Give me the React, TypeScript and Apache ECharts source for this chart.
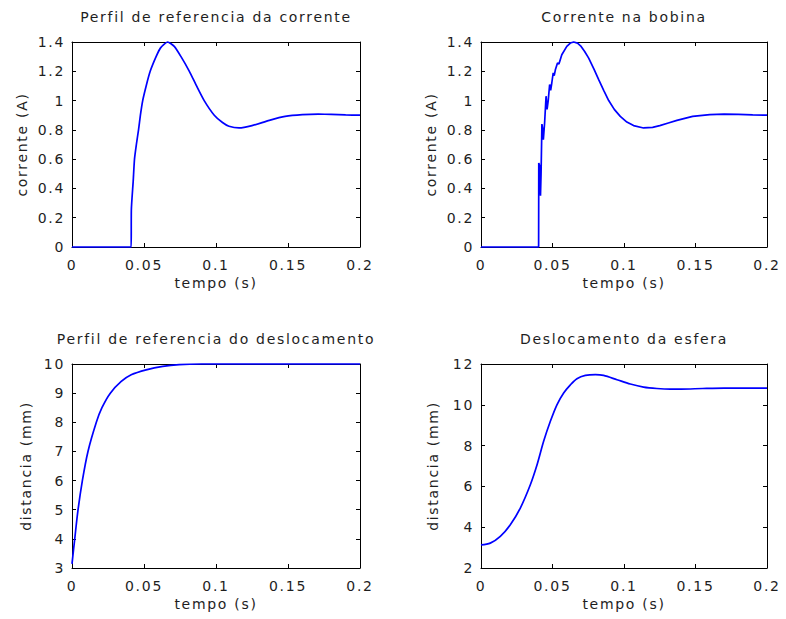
import React, { useEffect, useRef } from "react";
import * as echarts from "echarts";

// Reference current profile: time (s) and current (A)
const refCurrentT = [0, 0.0411, 0.0412, 0.0425, 0.0434, 0.0447, 0.0462, 0.0475, 0.0491, 0.0515, 0.0543, 0.0584, 0.0615, 0.0664, 0.071, 0.0757, 0.0815, 0.0865, 0.0918, 0.0988, 0.1045, 0.109, 0.116, 0.125, 0.137, 0.148, 0.16, 0.171, 0.18, 0.19, 0.2];
const refCurrentI = [0, 0, 0.25, 0.45, 0.6, 0.7, 0.8, 0.9, 1.0, 1.1, 1.2, 1.3, 1.36, 1.4, 1.37, 1.3, 1.2, 1.1, 1.0, 0.9, 0.85, 0.825, 0.813, 0.829, 0.865, 0.892, 0.904, 0.907, 0.906, 0.902, 0.9];

// Measured coil current: time (s) and current (A)
const coilT = [0, 0.0403, 0.0404, 0.0412, 0.0416, 0.042, 0.0426, 0.0432, 0.0436, 0.0445, 0.0455, 0.0462, 0.047, 0.048, 0.0487, 0.0495, 0.0505, 0.0512, 0.052, 0.0535, 0.0545, 0.0565, 0.06, 0.0625, 0.0648, 0.0675, 0.07, 0.0725, 0.0753, 0.079, 0.0823, 0.0858, 0.0893, 0.0932, 0.0974, 0.102, 0.1067, 0.1137, 0.12, 0.125, 0.131, 0.137, 0.148, 0.16, 0.17, 0.18, 0.19, 0.2];
const coilI = [0, 0, 0.574, 0.55, 0.35, 0.5, 0.84, 0.8, 0.733, 0.85, 1.03, 0.94, 1.0, 1.11, 1.07, 1.12, 1.19, 1.17, 1.21, 1.257, 1.25, 1.313, 1.37, 1.393, 1.4, 1.392, 1.37, 1.335, 1.29, 1.215, 1.143, 1.07, 1.0, 0.94, 0.892, 0.853, 0.829, 0.813, 0.817, 0.829, 0.847, 0.865, 0.892, 0.904, 0.907, 0.906, 0.902, 0.9];

// Reference displacement profile: time (s) and distance (mm)
const refDispT = [0, 0.0019, 0.0042, 0.0072, 0.0111, 0.0169, 0.0208, 0.0266, 0.0342, 0.0411, 0.0515, 0.063, 0.0745, 0.09, 0.2];
const refDispD = [3.14, 4, 5, 6, 7, 8, 8.5, 9, 9.4, 9.63, 9.8, 9.92, 9.98, 10.0, 10.0];

// Sphere displacement: time (s) and distance (mm)
const sphereT = [0, 0.0065, 0.0135, 0.0205, 0.0275, 0.0345, 0.0392, 0.0438, 0.0485, 0.0531, 0.0578, 0.0625, 0.0671, 0.073, 0.08, 0.0857, 0.0951, 0.1044, 0.1137, 0.123, 0.1324, 0.14, 0.155, 0.17, 0.2];
const sphereD = [3.13, 3.22, 3.55, 4.12, 4.94, 6.08, 7.06, 8.21, 9.19, 10.0, 10.58, 10.98, 11.28, 11.44, 11.48, 11.44, 11.23, 11.02, 10.87, 10.8, 10.77, 10.77, 10.8, 10.82, 10.82];

const titles = [
  "Perfil de referencia da corrente",
  "Corrente na bobina",
  "Perfil de referencia do deslocamento",
  "Deslocamento da esfera",
];
const xName = "tempo (s)";
const yNames = ["corrente (A)", "corrente (A)", "distancia (mm)", "distancia (mm)"];
const yRanges = [
  { min: 0, max: 1.4, interval: 0.2 },
  { min: 0, max: 1.4, interval: 0.2 },
  { min: 3, max: 10, interval: 1 },
  { min: 2, max: 12, interval: 2 },
];
const xRange = { min: 0, max: 0.2, interval: 0.05 };

const FONT = "DejaVu Sans";
const TEXT = "#1e1e1e";

const zip = (a: number[], b: number[]) => a.map((v, i) => [v, b[i]]);

export default function App() {
  const ref = useRef<HTMLDivElement>(null);

  useEffect(() => {
    if (!ref.current) return;
    const chart = echarts.init(ref.current, undefined, { renderer: "svg" });

    const grids = [
      { left: 72, top: 42, width: 288, height: 205 },
      { left: 481, top: 42, width: 286, height: 205 },
      { left: 72, top: 364, width: 288, height: 204 },
      { left: 481, top: 364, width: 286, height: 204 },
    ];
    const yNameGaps = [43, 43, 39, 41];
    // the sawtooth coil current is drawn as straight segments
    const smoothing = [0.2, 0, 0.3, 0.3];

    const tick = { show: true, inside: true, length: 4, lineStyle: { color: "#000", width: 1 } };
    const line = { show: true, onZero: false, lineStyle: { color: "#000", width: 1 } };
    const label = { fontFamily: FONT, fontSize: 14, color: TEXT };

    const xAxes: any[] = [];
    const yAxes: any[] = [];
    grids.forEach((_, i) => {
      xAxes.push({
        type: "value", gridIndex: i, position: "bottom", ...xRange,
        name: xName, nameLocation: "middle", nameGap: 29,
        nameTextStyle: { ...label },
        axisLine: line, axisTick: tick, splitLine: { show: false },
        axisLabel: { ...label, margin: 11 },
      });
      yAxes.push({
        type: "value", gridIndex: i, position: "left", ...yRanges[i],
        name: yNames[i], nameLocation: "middle", nameGap: yNameGaps[i],
        nameTextStyle: { ...label },
        axisLine: line, axisTick: tick, splitLine: { show: false },
        axisLabel: { ...label, margin: 7 },
      });
    });
    grids.forEach((_, i) => {
      xAxes.push({
        type: "value", gridIndex: i, position: "top", ...xRange,
        axisLine: line, axisTick: tick, splitLine: { show: false },
        axisLabel: { show: false },
      });
      yAxes.push({
        type: "value", gridIndex: i, position: "right", ...yRanges[i],
        axisLine: line, axisTick: tick, splitLine: { show: false },
        axisLabel: { show: false },
      });
    });

    const datasets = [
      zip(refCurrentT, refCurrentI),
      zip(coilT, coilI),
      zip(refDispT, refDispD),
      zip(sphereT, sphereD),
    ];

    chart.setOption({
      animation: false,
      backgroundColor: "#fff",
      title: titles.map((t, i) => ({
        text: t,
        left: grids[i].left + grids[i].width / 2,
        top: grids[i].top - 32,
        textAlign: "center",
        padding: 0,
        textStyle: { fontFamily: FONT, fontSize: 14, fontWeight: "normal", color: TEXT },
      })),
      grid: grids,
      xAxis: xAxes,
      yAxis: yAxes,
      series: datasets.map((d, i) => ({
        type: "line",
        xAxisIndex: i,
        yAxisIndex: i,
        data: d,
        showSymbol: false,
        clip: false,
        smooth: smoothing[i],
        lineStyle: { color: "#0000ff", width: 1.7 },
      })),
    });

    return () => chart.dispose();
  }, []);

  return (
    <>
      <style>{`.plots text { letter-spacing: 1.7px; }`}</style>
      <div
        ref={ref}
        className="plots"
        style={{ position: "fixed", left: 0, top: 0, width: 786, height: 619, background: "#fff" }}
      />
    </>
  );
}
